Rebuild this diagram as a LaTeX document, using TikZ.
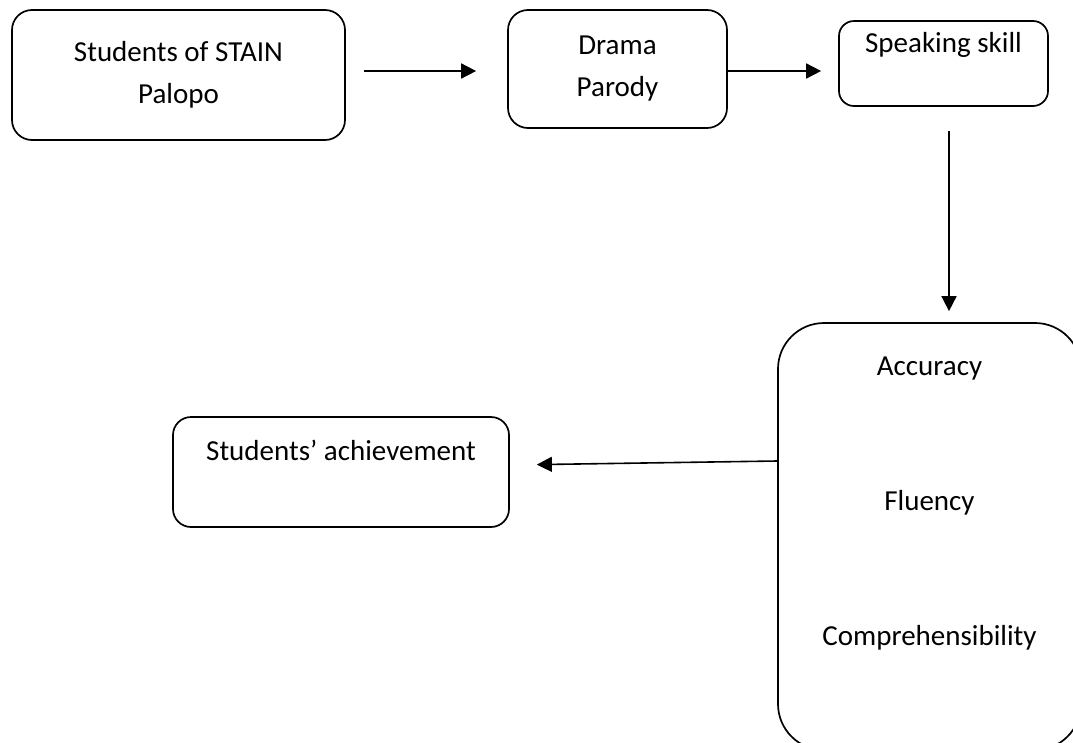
\documentclass[tikz,border=0pt]{standalone}
\usepackage{fontspec}
\setmainfont{Carlito}
\usetikzlibrary{arrows.meta, positioning}

\begin{document}
\begin{tikzpicture}[x=1pt, y=-1pt,
        box/.style={draw, line width=1.7pt, rounded corners=20pt, inner sep=0pt,
            align=center, font=\fontsize{29pt}{35pt}\selectfont},
        flow/.style={-{Triangle[length=15pt, width=15pt]}, line width=1.6pt}
    ]
        \useasboundingbox (0,0) rectangle (1073,742);
        \clip (0,0) rectangle (1073,742);

        % Top row
        \node[box, minimum width=333pt, minimum height=130pt] (students) at (178.5,75)
            {Students of STAIN\\[7pt]Palopo};
        \node[box, minimum width=219pt, minimum height=118pt] (drama) at (617.5,69)
            {Drama\\[7pt]Parody};
        \node[box, rounded corners=15pt, minimum width=209pt, minimum height=85pt,
            text height=21pt, text depth=44pt] (speaking) at (943.5,63.5) {Speaking skill};

        % Aspects and result
        \node[box, rounded corners=46pt, minimum width=303pt, minimum height=427pt] (aspects) at (929.5,536.5)
            {Accuracy\\[100pt]Fluency\\[100pt]Comprehensibility\\[36pt]\mbox{}};
        \node[box, rounded corners=18pt, minimum width=336pt, minimum height=110pt,
            text height=21pt, text depth=45pt] (achievement) at (341,472) {Students’ achievement};

        % Arrows
        \draw[flow, shorten <=18pt, shorten >=31pt] (students.east |- 0,71) -- (drama.west |- 0,71);
        \draw[flow, shorten >=17pt] (drama.east |- 0,71) -- (speaking.west |- 0,71);
        \draw[flow, shorten <=24pt, shorten >=11pt] (949,0 |- speaking.south) -- (949,0 |- aspects.north);
        \draw[flow, shorten >=27pt] (aspects.west |- 0,461) -- (achievement.east |- 0,465);
    \end{tikzpicture}
\end{document}
